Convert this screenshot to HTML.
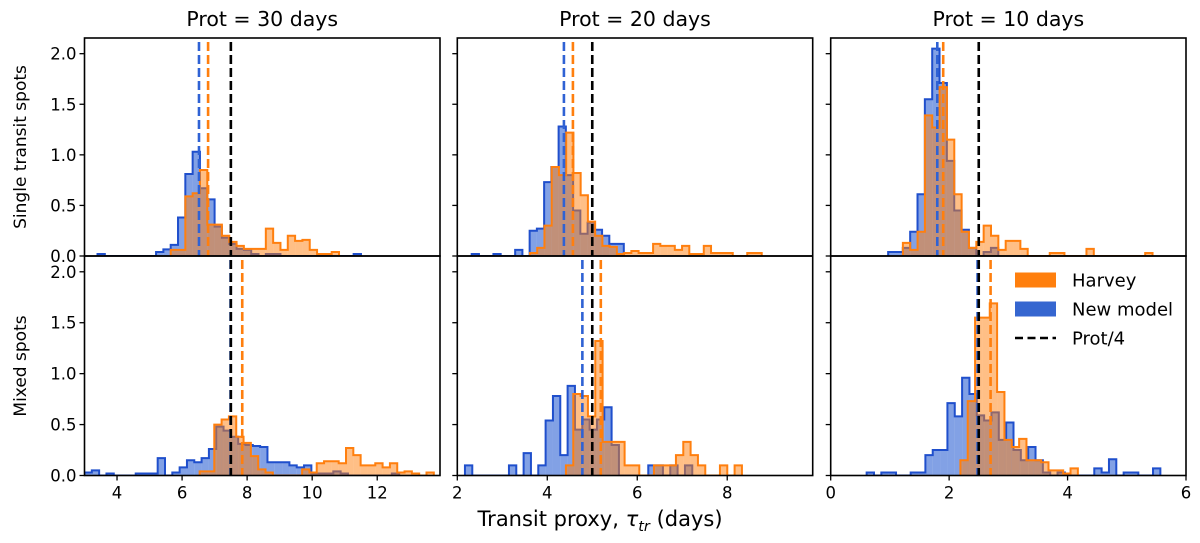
<!DOCTYPE html>
<html><head><meta charset="utf-8"><style>
body{margin:0;background:#fff;}
svg text{font-family:"DejaVu Sans","Liberation Sans",sans-serif;fill:#000;}
</style></head><body>
<svg id="chart" width="1200" height="538" viewBox="0 0 1200 538" xmlns="http://www.w3.org/2000/svg"></svg>
<script>
// ---- data ----
const panelTitles = ["Prot = 30 days","Prot = 20 days","Prot = 10 days"];
const rowLabels = ["Single transit spots","Mixed spots"];
const xTickValues = [[4,6,8,10,12],[2,4,6,8],[0,2,4,6]];
const yTickValues = [0,0.5,1.0,1.5,2.0];
const xDomains = [[3.0,13.93],[2.0,9.9],[0.0,6.0]];
const yMax = 2.155;

// top row (single transit spots)
const blueTop30Start = 3.4, blueTop30Width = 0.225;
const blueTop30 = [0.02,0,0,0,0,0,0,0,0.04,0.065,0.11,0.38,0.81,1.03,0.67,0.56,0.29,0.18,0.12,0.07,0.06,0.02,0,0.02,0.02,0,0,0,0,0,0,0,0,0,0,0.02];
const orangeTop30Start = 5.65, orangeTop30Width = 0.225;
const orangeTop30 = [0.06,0.06,0.59,0.62,0.85,0.31,0.31,0.2,0.14,0.1,0.07,0.07,0.07,0.27,0.13,0.06,0.2,0.15,0.16,0.06,0.02,0.02,0.04];
const blueTop20Start = 2.32, blueTop20Width = 0.161;
const blueTop20 = [0.02,0,0,0.02,0,0,0.06,0,0.25,0.27,0.73,0.88,1.28,0.8,0.45,0.22,0.33,0.26,0.2,0.12,0.12];
const orangeTop20Start = 3.615, orangeTop20Width = 0.161;
const orangeTop20 = [0.03,0.08,0.3,0.88,0.8,1.22,0.82,0.6,0.34,0.2,0.1,0.09,0.02,0.03,0.05,0.03,0.03,0.12,0.1,0.1,0.06,0.1,0.02,0.02,0.1,0.03,0.03,0.03,0,0,0.03,0.03];
const blueTop10Start = 0.97, blueTop10Width = 0.124;
const blueTop10 = [0.04,0.04,0.08,0.24,0.61,1.55,2.05,1.71,0.94,0.45,0.26,0.08,0,0.04,0.08];
const orangeTop10Start = 1.219, orangeTop10Width = 0.124;
const orangeTop10 = [0.13,0.06,0.24,1.39,1.27,1.67,1.15,0.61,0.24,0.08,0.14,0.3,0.2,0.06,0.15,0.15,0.07,0,0,0,0.03,0.03,0,0,0,0.07,0,0,0,0,0,0,0,0.03];

// bottom row (mixed spots)
const blueBot30Start = 3.0, blueBot30Width = 0.225;
const blueBot30 = [0.03,0.05,0,0.02,0,0,0,0.02,0.02,0.02,0.17,0,0.03,0.08,0.15,0.13,0.17,0.26,0.48,0.44,0.38,0.31,0.3,0.29,0.28,0.13,0.13,0.13,0.1,0.08,0.1,0.02,0.02,0.02,0.04,0.02,0,0,0,0,0,0,0.02];
const orangeBot30Start = 6.54, orangeBot30Width = 0.225;
const orangeBot30 = [0.04,0.04,0.5,0.55,0.58,0.38,0.32,0.19,0.06,0.03,0,0,0,0,0.06,0.03,0.12,0.14,0.14,0.12,0.27,0.2,0.1,0.1,0.12,0.08,0.12,0.03,0.04,0.02,0,0.03];
const blueBot20Start = 2.17, blueBot20Width = 0.163;
const blueBot20 = [0.1,0,0,0,0,0,0.1,0,0.22,0,0.1,0.54,0.78,0.2,0.88,0.45,0.55,0.45,0.55,0.67,0.3,0,0,0,0,0.1,0.1,0,0.1,0,0.1];
const orangeBot20Start = 4.415, orangeBot20Width = 0.163;
const orangeBot20 = [0.1,0.8,0.78,0.58,1.32,0.33,0.33,0.33,0.1,0.1,0,0,0.1,0.1,0.1,0.2,0.33,0.2,0.1,0,0,0.1,0,0.1];
const blueBot10Start = 0.607, blueBot10Width = 0.124;
const blueBot10 = [0.03,0,0.03,0.03,0,0,0.03,0.03,0.2,0.25,0.25,0.71,0.58,0.96,0.8,0.59,0.54,0.62,0.35,0.52,0.25,0.15,0.28,0.15,0.03,0,0.03,0,0,0,0,0.07,0.03,0.16,0,0.03,0.03,0,0,0.07];
const orangeBot10Start = 2.19, orangeBot10Width = 0.124;
const orangeBot10 = [0.15,0.73,1.55,1.55,1.69,0.82,0.35,0.28,0.36,0.15,0.15,0.13,0.05,0.05,0.02,0.07];

// vertical marker lines: [blue median, orange median, Prot/4]
const vlinesTop = [[6.52,6.80,7.5],[4.37,4.57,5.0],[1.80,1.90,2.5]];
const vlinesBot = [[7.49,7.85,7.5],[4.78,5.19,5.0],[2.48,2.70,2.5]];

const histsTop = [
  [[blueTop30Start,blueTop30Width,blueTop30],[orangeTop30Start,orangeTop30Width,orangeTop30]],
  [[blueTop20Start,blueTop20Width,blueTop20],[orangeTop20Start,orangeTop20Width,orangeTop20]],
  [[blueTop10Start,blueTop10Width,blueTop10],[orangeTop10Start,orangeTop10Width,orangeTop10]]];
const histsBot = [
  [[blueBot30Start,blueBot30Width,blueBot30],[orangeBot30Start,orangeBot30Width,orangeBot30]],
  [[blueBot20Start,blueBot20Width,blueBot20],[orangeBot20Start,orangeBot20Width,orangeBot20]],
  [[blueBot10Start,blueBot10Width,blueBot10],[orangeBot10Start,orangeBot10Width,orangeBot10]]];

// ---- layout ----
const NS = "http://www.w3.org/2000/svg";
const svg = document.getElementById("chart");
const colLeft = [84.5, 457.3, 830.7], colRight = [440, 812.7, 1186];
const rowTop = [38, 256], rowBottom = [256, 475.5];
const BLUE_EDGE = "#1f4fcc", BLUE_FILL = "#2f62d4";
const ORANGE_EDGE = "#ff7f0e", ORANGE_FILL = "#ff7f0e";

function mk(tag, attrs, parent){
  const e = document.createElementNS(NS, tag);
  for (const k in attrs) e.setAttribute(k, attrs[k]);
  (parent || svg).appendChild(e);
  return e;
}

function drawHist(g, sx, sy, start, width, heights, edge, fill, opacity, name){
  const grp = mk("g", {}, g);
  
  
  heights.forEach((h, i) => {
    if (h <= 0) return;
    const x0 = sx(start + i*width), x1 = sx(start + (i+1)*width);
    const r = mk("rect", {x:x0, y:sy(h), width:x1-x0, height:sy(0)-sy(h), fill:fill, "fill-opacity":opacity}, grp);
    
    
  });
  let d = "M" + sx(start) + "," + sy(0);
  heights.forEach((h, i) => {
    d += " L" + sx(start + i*width) + "," + sy(h) + " L" + sx(start + (i+1)*width) + "," + sy(h);
  });
  d += " L" + sx(start + heights.length*width) + "," + sy(0);
  const p = mk("path", {d:d, fill:"none", stroke:edge, "stroke-width":2, "stroke-linejoin":"miter"}, grp);
  
  
}

for (let r = 0; r < 2; r++){
  for (let c = 0; c < 3; c++){
    const L = colLeft[c], R = colRight[c], T = rowTop[r], B = rowBottom[r];
    const dom = xDomains[c];
    const sx = v => L + (v - dom[0]) / (dom[1] - dom[0]) * (R - L);
    const sy = v => B - v / yMax * (B - T);
    const g = mk("g", {});
    
    
    const clipId = "clip" + r + c;
    const cp = mk("clipPath", {id:clipId}, g);
    mk("rect", {x:L, y:T, width:R-L, height:B-T}, cp);
    const plot = mk("g", {"clip-path":"url(#" + clipId + ")"}, g);
    const hs = (r===0 ? histsTop : histsBot)[c];
    drawHist(plot, sx, sy, hs[0][0], hs[0][1], hs[0][2], BLUE_EDGE, BLUE_FILL, 0.6, 'new-model-histogram');
    drawHist(plot, sx, sy, hs[1][0], hs[1][1], hs[1][2], ORANGE_EDGE, ORANGE_FILL, 0.5, 'harvey-histogram');
    const vl = (r===0 ? vlinesTop : vlinesBot)[c];
    const vcols = ["#2f62d4", ORANGE_EDGE, "#000"];
    const vnames = ["new-model-median-line","harvey-median-line","prot-quarter-line"];
    [0,1,2].forEach(k => {
      const ln = mk("line", {x1:sx(vl[k]), x2:sx(vl[k]), y1:T+4, y2:B, stroke:vcols[k], "stroke-width":2.6, "stroke-dasharray":"9,4"}, plot);
      
      
    });
    const frame = mk("rect", {x:L, y:T, width:R-L, height:B-T, fill:"none", stroke:"#000", "stroke-width":1.6}, g);
    
    
    yTickValues.forEach(v => {
      const y = sy(v);
      const t = mk("line", {x1:L-5, x2:L, y1:y, y2:y, stroke:"#000", "stroke-width":1.3}, g);
      
      
      if (c === 0){
        const tx = mk("text", {x:L-8, y:y+6, "font-size":16.5, "text-anchor":"end"}, g);
        tx.textContent = v.toFixed(1);
        
        
      }
    });
    if (r === 1){
      xTickValues[c].forEach(v => {
        const x = sx(v);
        const t = mk("line", {x1:x, x2:x, y1:B, y2:B+5, stroke:"#000", "stroke-width":1.3}, g);
        
        
        const tx = mk("text", {x:x, y:B+23, "font-size":16.5, "text-anchor":"middle"}, g);
        tx.textContent = v;
        
        
      });
    } else {
      const tt = mk("text", {x:(L+R)/2, y:26, "font-size":20.5, "text-anchor":"middle"}, g);
      tt.textContent = panelTitles[c];
      
      
    }
  }
}
[[147,0],[366,1]].forEach(([cy,i]) => {
  const t = mk("text", {x:0, y:0, "font-size":17, "text-anchor":"middle", transform:"translate(26," + cy + ") rotate(-90)"});
  t.textContent = rowLabels[i];
  
  
});
const xl = mk("text", {x:600, y:526, "font-size":21, "text-anchor":"middle"});


xl.innerHTML = 'Transit proxy, <tspan font-style="italic">τ</tspan><tspan font-style="italic" font-size="14.5" dy="5">tr</tspan><tspan dy="-5"> (days)</tspan>';
const lg = mk("g", {});


const legItems = [["Harvey", ORANGE_EDGE, "patch"],["New model", "#3566d0", "patch"],["Prot/4", "#000", "dash"]];
legItems.forEach(([label, col, kind], i) => {
  const y = 280 + i*29;
  const e = mk("g", {}, lg);
  
  
  if (kind === "patch") mk("rect", {x:1015, y:y-7.5, width:41, height:15, fill:col}, e);
  else mk("line", {x1:1015, x2:1056, y1:y, y2:y, stroke:col, "stroke-width":2.6, "stroke-dasharray":"8,4.5"}, e);
  const t = mk("text", {x:1072, y:y+6.5, "font-size":18}, e);
  t.textContent = label;
});
</script>
</body></html>
